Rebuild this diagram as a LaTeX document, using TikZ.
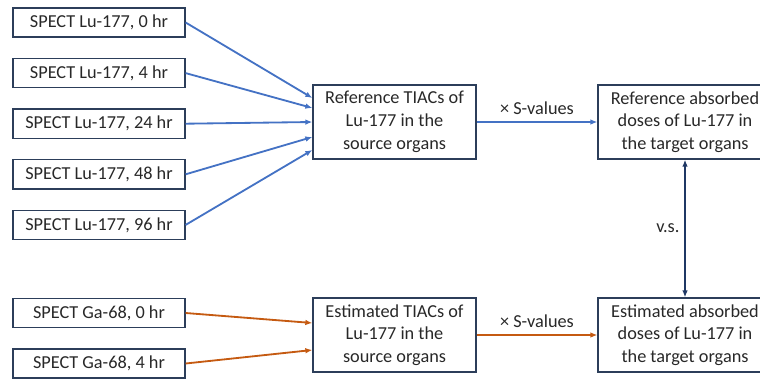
\documentclass[tikz,border=0pt]{standalone}
\usepackage{fontspec}
\setmainfont{Carlito}
\usepackage{tikz}
\usetikzlibrary{arrows.meta}
\usetikzlibrary{positioning}
\usetikzlibrary{calc}

\definecolor{lublue}{RGB}{68,114,196}
\definecolor{gaorange}{RGB}{197,90,17}
\definecolor{vsnavy}{RGB}{31,56,100}
\definecolor{boxline}{RGB}{44,62,90}
\definecolor{txtgray}{RGB}{40,40,40}

\begin{document}
\begin{tikzpicture}[every node/.style={text=txtgray, font=\fontsize{13}{16.2}\selectfont},
    imgbox/.style={draw=boxline, line width=0.9pt, minimum width=4.3cm, minimum height=0.73cm, inner sep=0pt},
    bigbox/.style={draw=boxline, line width=0.9pt, minimum height=1.85cm, align=center, inner sep=0pt},
    flow/.style={line width=1.3pt, -{Latex[length=5pt, width=4pt]}}]

      \useasboundingbox (0, 0) rectangle (19, -9.55);

      \def\n{5} % Number of Lu-177 time points
      \def\gap{1.265} % Vertical distance between the SPECT boxes

      % reference branch (Lu-177)
      \node[bigbox, minimum width=4.075cm] (tiacref) at (9.8625, -3.05) {Reference TIACs of\\Lu-177 in the\\source organs};
      \node[bigbox, minimum width=4.35cm] (doseref) at (17.125, -3.05) {Reference absorbed\\doses of Lu-177 in\\the target organs};

      \foreach \j/\t/\s in {1/0/0.6, 2/4/0.35, 3/24/0, 4/48/-0.375, 5/96/-0.7} {
        \pgfmathsetmacro\boxy{-0.5625 - \gap * (\j-1)}

        \node[imgbox] (lu\j) at (2.475, \boxy) {SPECT Lu-177, \t\ hr};
        \draw[flow, lublue] (lu\j.east) -- ([yshift=\s cm]tiacref.west);
      }

      \draw[flow, lublue] (tiacref) -- node[above=1pt] {× S-values} (doseref);

      % estimated branch (Ga-68)
      \node[bigbox, minimum width=4.075cm] (tiacest) at (9.8625, -8.375) {Estimated TIACs of\\Lu-177 in the\\source organs};
      \node[bigbox, minimum width=4.35cm] (doseest) at (17.125, -8.375) {Estimated absorbed\\doses of Lu-177 in\\the target organs};

      \node[imgbox] (ga1) at (2.475, -7.825) {SPECT Ga-68, 0 hr};
      \node[imgbox] (ga2) at (2.475, -9.0875) {SPECT Ga-68, 4 hr};

      \draw[flow, gaorange] (ga1.east) -- ([yshift=0.3cm]tiacest.west);
      \draw[flow, gaorange] (ga2.east) -- ([yshift=-0.375cm]tiacest.west);
      \draw[flow, gaorange] (tiacest) -- node[above=1pt] {× S-values} (doseest);

      % comparison
      \draw[line width=1.3pt, vsnavy, {Latex[length=5pt, width=4pt]}-{Latex[length=5pt, width=4pt]}] (doseref) -- node[left=0pt] {v.s.} (doseest);
    \end{tikzpicture}
\end{document}
